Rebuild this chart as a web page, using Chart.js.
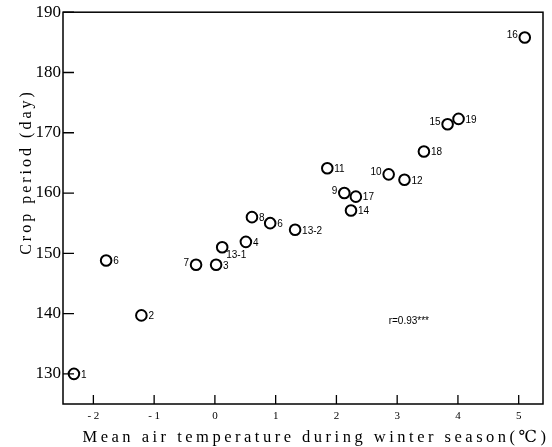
<!DOCTYPE html>
<html><head><meta charset="utf-8">
<script src="https://cdn.jsdelivr.net/npm/chart.js@4/dist/chart.umd.min.js"></script>
<style>html,body{margin:0;padding:0;background:#fff}canvas{display:block}</style>
</head><body>
<canvas id="c" width="552" height="447"></canvas>
<script>
const pointLabels = ['1','6','2','7','3','13-1','4','8','6','13-2','11','9','17','14','10','12','18','15','19','16'];
const tempValues  = [-2.32,-1.79,-1.21,-0.31,0.02,0.12,0.51,0.61,0.91,1.32,1.85,2.13,2.32,2.24,2.86,3.12,3.44,3.83,4.01,5.10];
const cropPeriod  = [130,148.8,139.7,148.1,148.1,151.0,151.9,156.0,155.0,153.9,164.1,160.0,159.4,157.1,163.1,162.2,166.9,171.4,172.3,185.8];
const xTicks = [-2,-1,0,1,2,3,4,5];
const xTickLabels = ['- 2','- 1','0','1','2','3','4','5'];
const yTicks = [130,140,150,160,170,180,190];
const xTitle = 'Mean air temperature during winter season(\u2103)';
const yTitle = 'Crop period (day)';
const rText = 'r=0.93***';

const leftSide = new Set(['7','9','10','15','16']);

const framePlugin = {
  id: 'frame',
  afterDraw(chart) {
    const ctx = chart.ctx, a = chart.chartArea;
    const xs = chart.scales.x, ys = chart.scales.y;
    ctx.save();
    ctx.strokeStyle = '#000';
    ctx.lineWidth = 1.5;
    ctx.strokeRect(a.left, a.top, a.right - a.left, a.bottom - a.top);
    ctx.lineWidth = 1.3;
    ctx.beginPath();
    xTicks.forEach(v => { const px = xs.getPixelForValue(v); ctx.moveTo(px, a.bottom); ctx.lineTo(px, a.bottom - 9); });
    yTicks.forEach(v => { const py = ys.getPixelForValue(v); ctx.moveTo(a.left, py); ctx.lineTo(a.left + 11, py); });
    ctx.stroke();
    // point labels
    const meta = chart.getDatasetMeta(0);
    ctx.fillStyle = '#000';
    ctx.font = '10px "Liberation Sans", Arial, sans-serif';
    ctx.textBaseline = 'middle';
    meta.data.forEach((el, i) => {
      const t = pointLabels[i];
      if (t === '13-1') { ctx.textAlign = 'left'; ctx.fillText(t, el.x + 4, el.y + 8); return; }
      if (leftSide.has(t)) { ctx.textAlign = 'right'; ctx.fillText(t, el.x - 7, el.y - 2); }
      else { ctx.textAlign = 'left'; ctx.fillText(t, el.x + 7, el.y + 1); }
    });
    // r annotation
    ctx.font = '10px "Liberation Sans", Arial, sans-serif';
    ctx.textAlign = 'left';
    ctx.fillText(rText, xs.getPixelForValue(2.86), ys.getPixelForValue(138.8));
    // axis titles
    ctx.font = '16.5px "Liberation Serif", "DejaVu Serif", serif';
    ctx.letterSpacing = '3.5px';
    ctx.textAlign = 'center';
    ctx.textBaseline = 'alphabetic';
    ctx.fillText(xTitle, 316, 442);
    ctx.font = '16px "Liberation Serif", "DejaVu Serif", serif';
    ctx.letterSpacing = '3px';
    ctx.translate(31, 172);
    ctx.rotate(-Math.PI / 2);
    ctx.fillText(yTitle, 0, 0);
    ctx.restore();
  }
};

new Chart(document.getElementById('c'), {
  type: 'scatter',
  data: {
    datasets: [{
      data: tempValues.map((x, i) => ({ x, y: cropPeriod[i] })),
      pointRadius: 5.3, pointHoverRadius: 5.3,
      pointBorderWidth: 2,
      borderColor: '#000',
      backgroundColor: 'rgba(0,0,0,0)'
    }]
  },
  options: {
    responsive: false, animation: false, devicePixelRatio: 1,
    layout: { padding: { top: 12, right: 9, left: 0, bottom: 0 } },
    plugins: { legend: { display: false }, tooltip: { enabled: false } },
    scales: {
      x: {
        type: 'linear', min: -2.5, max: 5.4,
        afterBuildTicks: s => { s.ticks = xTicks.map(v => ({ value: v })); },
        afterFit: s => { s.height = 43; },
        grid: { display: false, drawTicks: false },
        border: { display: false },
        ticks: {
          padding: 6, color: '#000',
          font: { family: '"Liberation Serif", serif', size: 11 },
          callback: (v) => { const k = xTicks.indexOf(v); return k >= 0 ? xTickLabels[k] : ''; }
        }
      },
      y: {
        type: 'linear', min: 125, max: 190,
        afterBuildTicks: s => { s.ticks = yTicks.map(v => ({ value: v })); },
        afterFit: s => { s.width = 63; },
        grid: { display: false, drawTicks: false },
        border: { display: false },
        ticks: {
          padding: 2, color: '#000',
          font: { family: '"Liberation Serif", serif', size: 17 }
        }
      }
    }
  },
  plugins: [framePlugin]
});
</script>
</body></html>
